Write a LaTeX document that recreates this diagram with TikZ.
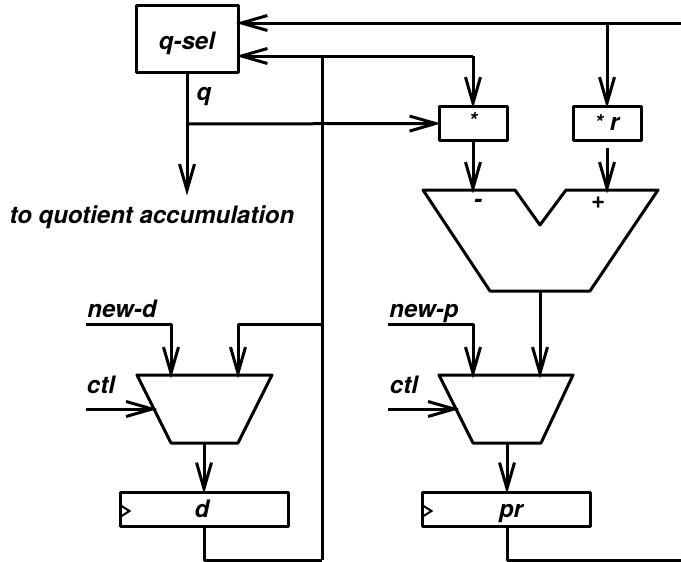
\documentclass[tikz,border=0pt]{standalone}
\usepackage{fontspec}
\setmainfont{TeX Gyre Heros}
\usetikzlibrary{arrows.meta}
\def\tagfont{\fontsize{24}{26}\bfseries\itshape\selectfont}
\def\starfont{\fontsize{22}{24}\bfseries\itshape\selectfont}
\tikzset{
	wire/.style={line width=3pt, line join=round},
	arrowwire/.style={wire, shorten >=-3.5pt, -{Straight Barb[length=26pt, width=15pt, line width=3pt]}},
	blockbox/.style={draw, line width=3pt, line join=round, inner sep=0pt, font=\tagfont, text height=16pt, text depth=0pt},
	tag/.style={inner sep=0pt, anchor=base, font=\tagfont},
}

\begin{document}
\begin{tikzpicture}[x=1pt, y=-1pt]
		%%%%% START %%%%%
		\useasboundingbox (0, 0) rectangle (681, 562);
		
		% blocks
		\node[blockbox, minimum width=102pt, minimum height=67pt, text height=21pt] (qsel) at (187, 39) {q-sel};
		\node[blockbox, minimum width=68pt, minimum height=34pt, text height=10pt, font=\starfont] (mulq) at (473, 123.5) {*};
		\node[blockbox, minimum width=68pt, minimum height=34pt, text height=14pt] (mulr) at (607, 123.5) {{\starfont *} r};
		\node[blockbox, minimum width=168pt, minimum height=34pt] (regd) at (204, 509) {\hspace{-4pt}d};
		\node[blockbox, minimum width=168pt, minimum height=34pt] (regpr) at (506, 509) {\hspace{10pt}pr};
		
		% subtractor
		\coordinate (subl) at (473, 190);
		\coordinate (subr) at (607, 190);
		\coordinate (subout) at (540, 291);
		\draw[wire] (423, 190) -- (515, 190) -- (540, 225) -- (566, 190) -- (658, 190) -- (590, 291) -- (490, 291) -- cycle;
		
		% muxes
		\coordinate (muxdl) at (171, 375);
		\coordinate (muxdr) at (238, 375);
		\coordinate (muxdc) at (154, 409);
		\coordinate (muxdout) at (204, 443);
		\draw[wire] (137, 375) -- (272, 375) -- (238, 443) -- (171, 443) -- cycle;
		\coordinate (muxpl) at (473, 375);
		\coordinate (muxpr) at (540, 375);
		\coordinate (muxpc) at (456, 409);
		\coordinate (muxpout) at (507, 443);
		\draw[wire] (439, 375) -- (573, 375) -- (541, 443) -- (473, 443) -- cycle;
		
		% clock marks
		\draw[line width=2pt] (120, 505) -- (129.5, 511) -- (120, 517);
		\draw[line width=2pt] (422, 505) -- (431.5, 511) -- (422, 517);
		
		% free ends
		\coordinate (rtop) at (681, 23);
		\coordinate (rbot) at (681, 560);
		\coordinate (busd) at (322, 56);
		\coordinate (busq) at (322, 560);
		\coordinate (tapd) at (322, 324);
		\coordinate (tapm) at (473, 56);
		\coordinate (tapr) at (607, 23);
		\coordinate (tapq) at (187, 124);
		\coordinate (qend) at (187, 192);
		\coordinate (newd) at (86, 324);
		\coordinate (ctld) at (86, 409);
		\coordinate (newp) at (388, 324);
		\coordinate (ctlp) at (388, 409);
		
		% top lines
		\draw[arrowwire] (rtop) -- (qsel.east |- rtop);
		\draw[arrowwire] (tapm) -- (qsel.east |- tapm);
		\draw[arrowwire] (tapm) -- (mulq.north);
		\draw[arrowwire] (tapr) -- (mulr.north);
		\draw[wire] (busd) -- (busq);
		
		% q lines
		\draw[arrowwire] (qsel.south) -- (qend);
		\draw[arrowwire] (tapq) -- (mulq.west);
		
		% into subtractor
		\draw[arrowwire] (mulq.south) -- (subl);
		\draw[arrowwire] (607, 148) -- (subr);
		
		% left path
		\draw[arrowwire] (newd) -| (muxdl);
		\draw[arrowwire] (tapd) -| (muxdr);
		\draw[arrowwire] (ctld) -- (muxdc);
		\draw[arrowwire] (muxdout) -- (regd.north);
		\draw[wire] (regd.south) |- (busq);
		
		% right path
		\draw[arrowwire] (newp) -| (muxpl);
		\draw[arrowwire] (subout) -- (muxpr);
		\draw[arrowwire] (ctlp) -- (muxpc);
		\draw[arrowwire] (muxpout) -- (muxpout |- regpr.north);
		\draw[wire] (muxpout |- regpr.south) |- (rbot);
		
		% labels
		\node[tag] (lq) at (204, 100) {q};
		\node[tag] (lquot) at (152, 223) {to quotient accumulation};
		\node[tag] (lminus) at (478, 207) {-};
		\node[tag] (lplus) at (598, 208) {+};
		\node[tag] (lnewd) at (122, 317) {new-d};
		\node[tag] (lctld) at (101, 393) {ctl};
		\node[tag] (lnewp) at (424, 317) {new-p};
		\node[tag] (lctlp) at (404, 393) {ctl};
		
		%%%%% END %%%%%
	\end{tikzpicture}
\end{document}
